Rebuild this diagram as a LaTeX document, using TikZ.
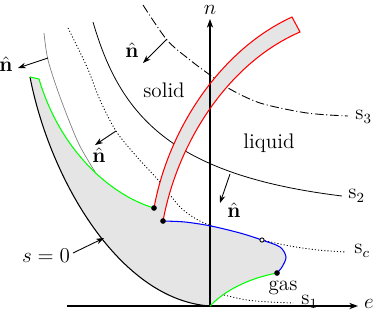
\documentclass[tikz,border=0pt]{standalone}
\usetikzlibrary{arrows.meta}
\begin{document}
\begin{tikzpicture}[x=0.02cm,y=-0.02cm,
  lbl/.style={font=\large, inner sep=0pt},
  arr/.style={-{Stealth[length=4.5pt,width=3.2pt]}, line width=0.5pt},
  axis/.style={-{Stealth[length=5pt,width=3.6pt]}, line width=0.6pt},
  scurve/.style={line width=0.45pt},
  dotc/.style={line width=0.5pt, dash pattern=on 0.6pt off 1.2pt},
  dashdotc/.style={line width=0.5pt, dash pattern=on 5pt off 1.5pt on 0.6pt off 1.5pt},
  thinc/.style={line width=0.4pt, gray},
  bnd/.style={line width=0.6pt},
  phasefill/.style={fill=black!10}]
\useasboundingbox (0,0) rectangle (374,312);

% level curves (drawn first, partly hidden by the band)
\draw[thinc] plot[smooth] coordinates {(44,33) (48,60) (60,97) (77,140) (89,162) (101,181)};
\draw[dotc] plot[smooth] coordinates {(68,28) (87,67) (100,100) (116,131) (137,157) (160,182) (180,207) (198,220) (214,227)};
\draw[dotc] plot[smooth] coordinates {(262,240) (290,246) (318,250) (346,252)};
\draw[scurve] (93,22) .. controls (120,115) and (170,175) .. (342,196);
\draw[dashdotc] plot[smooth] coordinates {(143,5) (167,40) (190,60) (210,75) (228,88) (260,103) (307,113) (348,116)};
\draw[dotc] plot[smooth] coordinates {(224,295) (247,300) (270,302) (293,303)};

% phase region
\fill[phasefill] (30,77) .. controls (50,180) and (120,300) .. (210,306)
  .. controls (225,290) and (250,278) .. (277,273)
  -- plot[smooth] coordinates {(277,273) (282,267) (286,257) (280,247) (262,240) (240,233) (211,226) (185,222) (163,221)}
  .. controls (178,140) and (230,62) .. (300,32)
  -- (292,17)
  .. controls (220,50) and (168,130) .. (154,208)
  .. controls (110,195) and (60,150) .. (39,79)
  -- cycle;

% axes
\draw[axis] (67,306) -- (358,306);
\draw[axis] (210,306) -- (210,19);

% boundaries
\draw[bnd, black] (30,77) .. controls (50,180) and (120,300) .. (210,306);
\draw[bnd, green] (210,306) .. controls (225,290) and (250,278) .. (277,273);
\draw[bnd, blue] plot[smooth] coordinates {(277,273) (282,267) (286,257) (280,247) (262,240) (240,233) (211,226) (185,222) (163,221)};
\draw[bnd, red] (163,221) .. controls (178,140) and (230,62) .. (300,32) -- (292,17)
  .. controls (220,50) and (168,130) .. (154,208);
\draw[bnd, green] (154,208) .. controls (110,195) and (60,150) .. (39,79) -- (30,77);

% points
\fill (154,208) circle[radius=1.6pt];
\fill (163,221) circle[radius=1.6pt];
\fill (277,273) circle[radius=1.6pt];
\draw[line width=0.5pt, fill=white] (262,240) circle[radius=1.2pt];

% normal arrows
\coordinate (b1) at (48,58);  \coordinate (h1) at (18,68);
\coordinate (b2) at (116,131); \coordinate (h2) at (95,145);
\coordinate (b3) at (167,39);  \coordinate (h3) at (143,63);
\coordinate (b4) at (230,174); \coordinate (h4) at (220,203);
\coordinate (b5) at (73,253);  \coordinate (h5) at (104,238);
\draw[arr] (b1) -- (h1);
\draw[arr] (b2) -- (h2);
\draw[arr] (b3) -- (h3);
\draw[arr] (b4) -- (h4);
\draw[arr] (b5) -- (h5);

% labels
\node[lbl] (n1) at (6,64) {$\hat{\mathbf{n}}$};
\node[lbl] (n2) at (99,155) {$\hat{\mathbf{n}}$};
\node[lbl] (n3) at (132,50) {$\hat{\mathbf{n}}$};
\node[lbl] (n4) at (234,210) {$\hat{\mathbf{n}}$};
\node[lbl] (solid) at (164,90) {solid};
\node[lbl] (liquid) at (269,143) {liquid};
\node[lbl] (gas) at (283,288) {gas};
\node[lbl, anchor=west] (s3) at (355,117) {$\mathrm{s}_3$};
\node[lbl, anchor=west] (s2) at (348,196) {$\mathrm{s}_2$};
\node[lbl, anchor=west] (sc) at (354,251) {$\mathrm{s}_c$};
\node[lbl, anchor=west] (s1) at (301,302) {$\mathrm{s}_1$};
\node[lbl] (e) at (369,304) {$e$};
\node[lbl] (n) at (210,10) {$n$};
\node[lbl] (s0) at (46,256) {$s=0$};
\end{tikzpicture}
\end{document}
